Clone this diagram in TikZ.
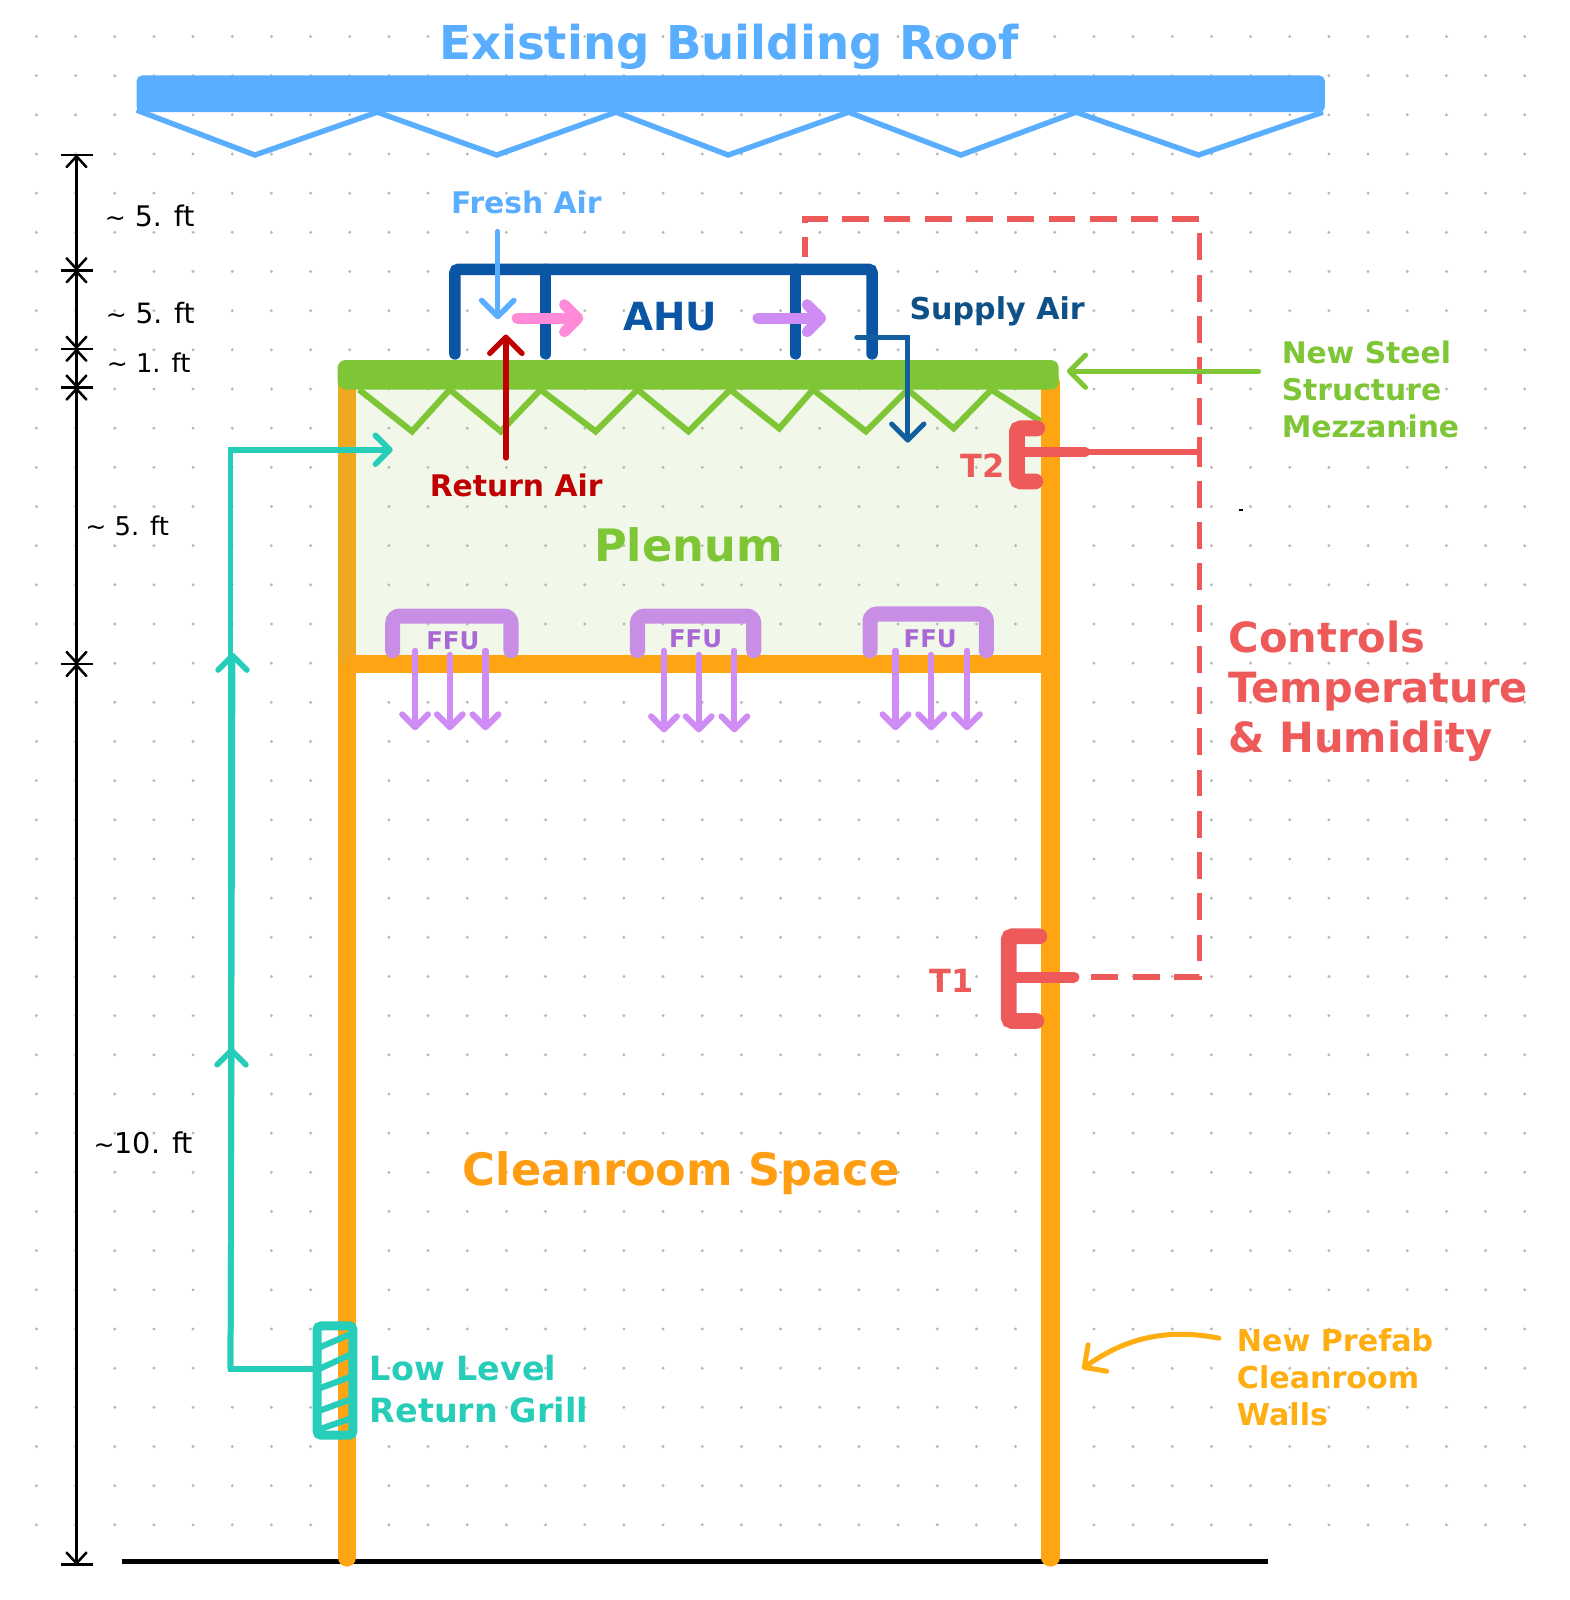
\documentclass[tikz,border=0pt]{standalone}
\usepackage{fontspec}
\setmainfont{DejaVu Sans}
\usetikzlibrary{arrows.meta}

\definecolor{roofblue}{HTML}{5AAEFF}
\definecolor{steelgreen}{HTML}{7EC636}
\definecolor{plenumfill}{HTML}{F1F7E9}
\definecolor{wallorange}{HTML}{FFA514}
\definecolor{walldark}{HTML}{EFA81F}
\definecolor{ahublue}{HTML}{0A56A5}
\definecolor{supplyblue}{HTML}{125E9F}
\definecolor{returnred}{HTML}{C00000}
\definecolor{ctrlred}{HTML}{EE5A5A}
\definecolor{gridteal}{HTML}{26CDB8}
\definecolor{ffupurple}{HTML}{C88EE6}
\definecolor{ffutext}{HTML}{A968D6}
\definecolor{flowpurple}{HTML}{D08CF5}
\definecolor{flowpink}{HTML}{FF8AD8}

\newcommand{\tld}{{\fontsize{7}{7}\selectfont\textasciitilde}}

\tikzset{
  txt/.style={font=\bfseries\fontsize{#1}{#1}\selectfont, inner sep=0pt},
  dimtxt/.style={font=\fontsize{#1}{#1}\selectfont, inner sep=0pt, anchor=west},
  tip/.style={-{Straight Barb[round,length=#1pt,width=2*#1pt]}},
  wall/.style={wallorange, line width=5.1pt, line cap=round},
  ahuline/.style={ahublue, line width=3.2pt, line cap=round},
  tick/.style={black, line width=0.7pt},
  dimline/.style={black, line width=0.7pt, {Straight Barb[round,length=3pt,width=5.5pt]}-{Straight Barb[round,length=3pt,width=5.5pt]}},
  ctrlline/.style={ctrlred, line width=1.6pt},
  sensor/.style={ctrlred, line cap=round},
  ffuline/.style={ffupurple, line width=4.2pt, line cap=round, rounded corners=2pt},
  ffuflow/.style={flowpurple, line width=1.7pt, line cap=round, tip=3.6},
}

\begin{document}
\begin{tikzpicture}[x=0.01cm, y=-0.01cm]
    \useasboundingbox (0,0) rectangle (1538.6,1568.7);
    \fill[white] (0,0) rectangle (1538.6,1568.7);

    % plenum background, dots go over it
    \fill[plenumfill] (349,380) rectangle (1021,642);
    \foreach \i in {0,...,38} \foreach \j in {0,...,38}
        \fill[black!28] (35.7+38.4*\i, 35.8+38.4*\j) circle (0.45pt);

    % roof
    \node[txt=13, text=roofblue] (roof) at (715,46) {Existing Building Roof};
    \fill[roofblue, rounded corners=1.5pt] (134,74) rectangle (1299,110);
    \draw[roofblue, line width=1.5pt] (134,108) -- (250,152) -- (370,110) -- (487,152) -- (604,110) -- (714,152)
        -- (832,110) -- (942,152) -- (1055,110) -- (1175,152) -- (1297,110);

    % floor and walls
    \draw[black, line width=1.4pt] (120,1531) -- (1243,1531);
    \draw[wall] (340,652) -- (340,1527);
    \draw[walldark, line width=5.1pt] (340,375) -- (340,652);
    \draw[wall] (1030,375) -- (1030,1527);
    \draw[wallorange, line width=5.1pt] (340,651) -- (1030,651);

    % mezzanine
    \draw[steelgreen, line width=1.7pt] (352,382) -- (404,423) -- (441,382) -- (491,423) -- (530,382) -- (584,423) -- (625,382)
        -- (675,423) -- (716,382) -- (764,420) -- (797,382) -- (849,423) -- (890,382) -- (935,420) -- (972,382) -- (1020,413);
    \fill[steelgreen, rounded corners=2.2pt] (331,353) rectangle (1038,382);

    % dimensions
    \coordinate (d0) at (75,152);
    \coordinate (d1) at (75,265);
    \coordinate (d2) at (75,342);
    \coordinate (d3) at (75,380);
    \coordinate (d4) at (75,651);
    \coordinate (d5) at (75,1534);
    \foreach \a/\b in {d0/d1, d1/d2, d2/d3, d3/d4, d4/d5}
        \draw[dimline] (\a) -- (\b);
    \foreach \a in {d0,d1,d2,d3,d4,d5}
        \draw[tick] ([xshift=-0.15cm]\a) -- ([xshift=0.16cm]\a);
    \node[dimtxt=7.9] (h1) at (102,212) {\tld{} 5. ft};
    \node[dimtxt=7.8] (h2) at (103,307) {\tld{} 5. ft};
    \node[dimtxt=7.2] (h3) at (104,356) {\tld{} 1. ft};
    \node[dimtxt=7.2] (h4) at (83,516) {\tld{} 5. ft};
    \node[dimtxt=8] (h5) at (91,1120) {\tld{}10. ft};

    % AHU
    \draw[ahuline, rounded corners=1pt] (446,347) -- (446,264) -- (855,264) -- (855,347);
    \draw[ahuline] (535,264) -- (535,347);
    \draw[ahuline] (780,264) -- (780,347);
    \node[txt=10.8, text=ahublue] (ahu) at (657,310) {AHU};

    % air flows
    \coordinate (freshA) at (488,227);
    \coordinate (freshB) at (488,313);
    \coordinate (returnA) at (496,449);
    \coordinate (returnB) at (496,328);
    \draw[roofblue, line width=1.5pt, line cap=round, tip=4.5] (freshA) -- (freshB);
    \draw[returnred, line width=1.5pt, line cap=round, tip=4.5] (returnA) -- (returnB);
    \node[txt=8.3, text=roofblue] (fresh) at (516,198) {Fresh Air};
    \node[txt=8.3, text=returnred] (return) at (506,476) {Return Air};

    \coordinate (pinkA) at (507,312);
    \coordinate (pinkB) at (572,312);
    \coordinate (lilacA) at (743,312);
    \coordinate (lilacB) at (810,312);
    \draw[flowpink, line width=3pt, line cap=round, tip=3.8] (pinkA) -- (pinkB);
    \draw[flowpurple, line width=3pt, line cap=round, tip=3.8] (lilacA) -- (lilacB);

    \coordinate (supplyA) at (840,331);
    \coordinate (supplyB) at (890,434);
    \draw[supplyblue, line width=1.4pt, line cap=round, tip=4.5] (supplyA) -| (supplyB);
    \node[txt=8.4, text=supplyblue!85!black, anchor=west] (supply) at (891,305) {Supply Air};

    \node[txt=12.45, text=steelgreen] (plenum) at (675,534) {Plenum};

    % FFUs
    \foreach \fl/\fr/\ft/\ftx/\fty/\ax/\bx/\cx/\tp/\nm in {385/501/604/444/628/407/441/476/716/a, 625/739/604/682/626/651/685/720/718/b, 853/967/602/912/626/878/913/948/716/c}{
        \draw[ffuline] (\fl,638) -- (\fl,\ft) -- (\fr,\ft) -- (\fr,638);
        \node[txt=6.8, text=ffutext] (ffu\nm) at (\ftx,\fty) {FFU};
        \draw[ffuflow] (\ax,638) -- (\ax,\tp);
        \draw[ffuflow] (\bx,642) -- (\bx,\tp);
        \draw[ffuflow] (\cx,638) -- (\cx,\tp);
    }

    % controls
    \coordinate (tOne) at (1053,958);
    \coordinate (tTwo) at (1064,443);
    \coordinate (corner) at (1176,958);
    \coordinate (tap) at (1176,443);
    \draw[ctrlline, dash pattern=on 7.5pt off 4pt] (1070,958) -- (corner) -- (1176,215) -- (789,215) -- (789,252);
    \draw[ctrlline] (tTwo) -- (tap);
    \draw[ctrlline] (1176,428) -- (1176,458);

    \draw[sensor, line width=4.4pt, rounded corners=1pt] (1017,420) -- (997,420) -- (997,472) -- (1015,472);
    \draw[sensor, line width=2.6pt] (1000,443) -- (tTwo);
    \node[txt=8.9, text=ctrlred] (t2) at (963,457) {T2};

    \draw[sensor, line width=4.4pt, rounded corners=1pt] (1019,918) -- (989,918) -- (989,1001) -- (1016,1001);
    \draw[sensor, line width=3pt] (992,958) -- (tOne);
    \node[txt=8.9, text=ctrlred] (t1) at (933,962) {T1};

    \node[inner sep=0pt, text=ctrlred, anchor=west, align=left, font=\bfseries\fontsize{11.6}{13.9}\selectfont] (ctrl) at (1204,678) {Controls\\Temperature\\\& Humidity};

    % steel callout
    \coordinate (steelA) at (1234,364);
    \coordinate (steelB) at (1046,364);
    \draw[steelgreen, line width=1.4pt, line cap=round, tip=4.5] (steelA) -- (steelB);
    \node[inner sep=0pt, text=steelgreen, anchor=west, align=left, font=\bfseries\fontsize{8.3}{10.24}\selectfont] (steel) at (1256,382) {New Steel\\Structure\\Mezzanine};

    % prefab callout
    \coordinate (prefabA) at (1195,1312);
    \coordinate (prefabB) at (1061,1342);
    \draw[wallorange!90!yellow, line width=1.4pt, line cap=round, tip=4.5] (prefabA) .. controls (1135,1300) and (1095,1318) .. (prefabB);
    \node[inner sep=0pt, text=wallorange!90!yellow, anchor=west, align=left, font=\bfseries\fontsize{8.4}{10.3}\selectfont] (prefab) at (1212,1350) {New Prefab\\Cleanroom\\Walls};

    \node[txt=12.45, text=wallorange!95!red] (clean) at (668,1150) {Cleanroom Space};

    % return path and grill
    \coordinate (grillW) at (311,1342);
    \coordinate (corA) at (226,1342);
    \coordinate (corB) at (226,441);
    \coordinate (plenumIn) at (385,441);
    \draw[gridteal, line width=1.6pt, line cap=round, tip=4] (grillW) -- (corA) -- (corB) -- (plenumIn);
    \draw[gridteal, line width=1.6pt, line cap=round, tip=4] (corA) -- (227,1027);
    \draw[gridteal, line width=1.6pt, line cap=round, tip=4] (corA) -- (228,640);
    \draw[gridteal, line width=2.5pt, rounded corners=1pt] (311,1300) rectangle (346,1407);
    \foreach \ya/\yb in {1322/1307, 1343/1327, 1362/1349, 1384/1371, 1402/1390}
        \draw[gridteal, line width=1.7pt] (311,\ya) -- (346,\yb);
    \node[inner sep=0pt, text=gridteal, anchor=west, align=left, font=\bfseries\fontsize{9.3}{11.7}\selectfont] (grill) at (362,1361.5) {Low Level\\Return Grill};

    \fill[black] (1215,499) rectangle (1219,501);
\end{tikzpicture}
\end{document}
